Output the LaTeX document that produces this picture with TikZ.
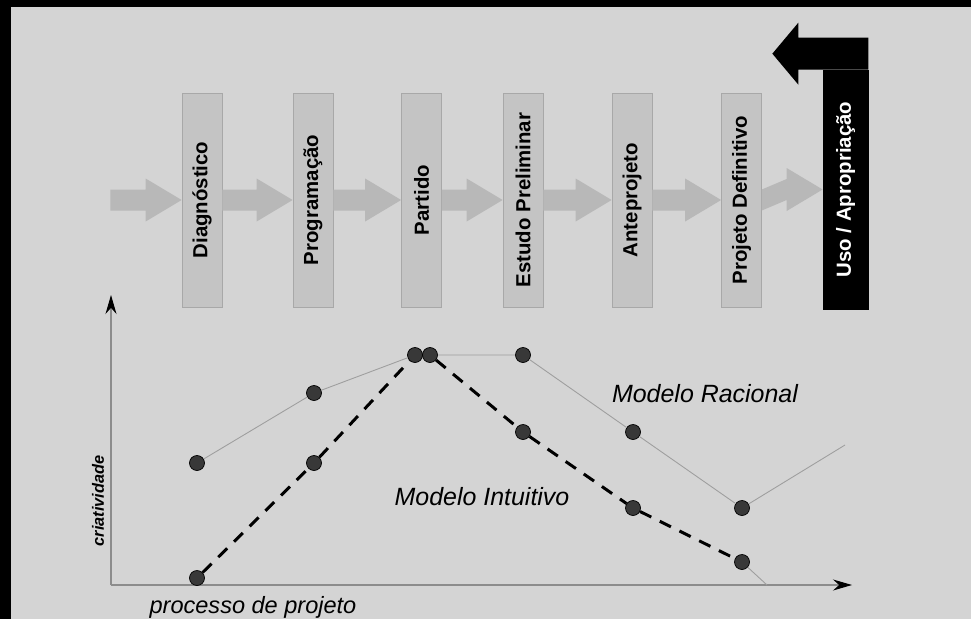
\documentclass[tikz,border=0pt]{standalone}
\usepackage{fontspec}
\setmainfont{Liberation Sans}
\usepackage{tikz}
\usetikzlibrary{arrows.meta,calc}

\definecolor{bggray}{gray}{0.83}
\definecolor{boxgray}{gray}{0.77}
\definecolor{boxline}{gray}{0.66}
\definecolor{arrowgray}{gray}{0.72}
\definecolor{dotgray}{gray}{0.22}
\definecolor{linegray}{gray}{0.62}
\definecolor{axisgray}{gray}{0.55}

% block arrow from one stage to the next
\newcommand{\flowarrow}[2]{%
  \fill[flow] ($(#1.east)+(0,-10.5)$) -- ($(#2.west)+(-36,-10.5)$) -- ($(#2.west)+(-36,-21.5)$)
    -- (#2.west) -- ($(#2.west)+(-36,21.5)$) -- ($(#2.west)+(-36,10.5)$) -- ($(#1.east)+(0,10.5)$) -- cycle;}

\begin{document}
\begin{tikzpicture}[x=0.02cm, y=-0.02cm]

\tikzset{stage/.style = {draw=boxline, fill=boxgray, inner sep=0, minimum width=0.8cm, minimum height=4.28cm, font=\fontsize{11.6}{13.9}\selectfont\bfseries}}
\tikzset{flow/.style = {fill=arrowgray}}
\tikzset{dot/.style = {circle, draw=black, fill=dotgray, inner sep=0, minimum size=0.3cm}}
\tikzset{racional/.style = {draw=linegray, line width=0.5pt}}
\tikzset{intuitivo/.style = {draw=black, line width=1.7pt, dash pattern=on 0.25cm off 0.19cm}}
\tikzset{axis/.style = {draw=axisgray, line width=0.6pt, -{Stealth[length=0.38cm, width=0.22cm, color=black]}}}
\tikzset{modeltext/.style = {inner sep=0, font=\fontsize{14.2}{17}\selectfont\itshape}}

% background
\fill[bggray] (0,0) rectangle (971,619);
\fill[black] (0,0) rectangle (971,7);
\fill[black] (0,0) rectangle (11,619);
\useasboundingbox (0,0) rectangle (971,619);

% stages
\node[inner sep=0, minimum size=0] (start) at (110,200) {};
\node[stage] (diag) at (202,200) {\rotatebox{90}{Diagnóstico}};
\node[stage] (prog) at (313,200) {\rotatebox{90}{Programação}};
\node[stage] (part) at (421.5,200) {\rotatebox{90}{Partido}};
\node[stage] (estudo) at (523,200) {\rotatebox{90}{Estudo Preliminar}};
\node[stage] (ante) at (632,200) {\rotatebox{90}{Anteprojeto}};
\node[stage] (def) at (741.5,200) {\rotatebox{90}{Projeto Definitivo}};
\node[stage, fill=black, draw=black, text=white, minimum width=0.9cm, minimum height=4.78cm] (uso) at (845.5,189.5) {\rotatebox{90}{Uso / Apropriação}};

% flow arrows
\flowarrow{start}{diag}
\flowarrow{diag}{prog}
\flowarrow{prog}{part}
\flowarrow{part}{estudo}
\flowarrow{estudo}{ante}
\flowarrow{ante}{def}
\flowarrow{def}{uso}
\fill[black] (uso.north west) -- (uso.north east) -- ++(0,-32) -- ++(-70,0) -- ++(0,-15)
  -- ++(-26,31) -- ++(26,31) -- ++(0,-15) -- cycle;

% axes
\coordinate (o) at (111,585);
\coordinate (ytop) at (111,295);
\coordinate (xend) at (852,585);
\draw[axis] (o) -- (ytop);
\draw[axis] (o) -- (xend);
\node[rotate=90, inner sep=0, font=\fontsize{9.3}{11}\selectfont\bfseries\itshape] (lcriatividade) at (98,501) {criatividade};
\node[inner sep=0, anchor=base, font=\fontsize{13.4}{16}\selectfont\itshape] (lprocesso) at (253,613) {processo de projeto};

% points
\node[dot] (r1) at (197,463) {};
\node[dot] (r2) at (314,393) {};
\node[dot] (pa) at (415,355) {};
\node[dot] (pb) at (430,355) {};
\node[dot] (r4) at (523,355) {};
\node[dot] (r5) at (633,432) {};
\node[dot] (r6) at (742,508) {};
\coordinate (rend) at (845,445);
\node[dot] (i1) at (197,578) {};
\node[dot] (i2) at (314,463) {};
\node[dot] (i4) at (523,432) {};
\node[dot] (i5) at (633,508) {};
\node[dot] (i6) at (742,562) {};
\coordinate (iend) at (767,585);

%lines
\draw[racional] (r1) -- (r2) -- (pa);
\draw[racional] (pb) -- (r4) -- (r5) -- (r6) -- (rend);
\draw[intuitivo] (i1) -- (i2) -- (pa);
\draw[intuitivo] (pb) -- (i4) -- (i5) -- (i6);
\draw[racional] (i6) -- (iend);

\node[modeltext, anchor=base] (lracional) at (705,402) {Modelo Racional};
\node[modeltext, anchor=base] (lintuitivo) at (482,505) {Modelo Intuitivo};

\end{tikzpicture}
\end{document}
